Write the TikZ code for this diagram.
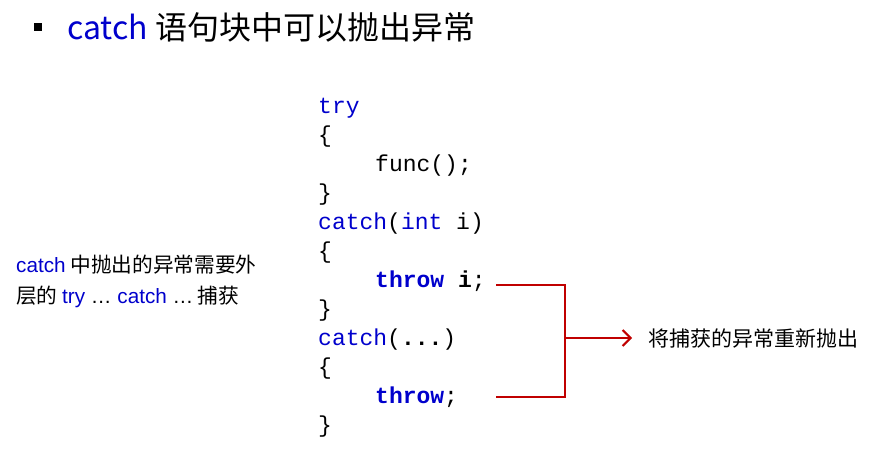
\documentclass[tikz,border=0pt]{standalone}
\usepackage{fontspec}
\setmainfont{Liberation Sans}
\setmonofont{Liberation Mono}
\newfontfamily\cjk{Noto Sans CJK SC}
\newfontfamily\arial{Liberation Sans}
\usetikzlibrary{arrows.meta}
\definecolor{kw}{RGB}{0,0,204}
\definecolor{rl}{RGB}{192,0,0}
\tikzset{
  code/.style={anchor=base west, inner sep=0pt, font=\ttfamily\fontsize{23}{24}\selectfont},
  redline/.style={draw=rl, line width=2pt},
  redarrow/.style={redline, -{Straight Barb[length=8pt,width=16pt,line width=2pt]}},
}
\begin{document}
\begin{tikzpicture}[x=1pt,y=-1pt]
\useasboundingbox (0,0) rectangle (889,474);
% title
\fill (34,23) rectangle (42,31);
\node[anchor=west, inner sep=0pt, font=\cjk\fontsize{32}{36}\selectfont] (title) at (67,27)
  {\textcolor{kw}{catch} 语句块中可以抛出异常};
% left note
\node[anchor=west, inner sep=0pt, align=left, font=\cjk\fontsize{20.7}{31}\selectfont] (note) at (16,281)
  {{\arial\textcolor{kw}{catch}} 中抛出的异常需要外\\层的 {\arial\textcolor{kw}{try} … \textcolor{kw}{catch} …} 捕获};
% code
\node[code] (l0) at (318,113) {\textcolor{kw}{try}};
\node[code] (l1) at (318,142) {\{};
\node[code] (l2) at (375,171) {func();};
\node[code] (l3) at (318,200) {\}};
\node[code] (l4) at (318,229) {\textcolor{kw}{catch}(\textcolor{kw}{int} i)};
\node[code] (l5) at (318,258) {\{};
\node[code] (l6) at (375,287) {\textbf{\textcolor{kw}{throw} i};};
\node[code] (l7) at (318,316) {\}};
\node[code] (l8) at (318,345) {\textcolor{kw}{catch}(\textbf{...})};
\node[code] (l9) at (318,374) {\{};
\node[code] (l10) at (375,403) {\textbf{\textcolor{kw}{throw}};};
\node[code] (l11) at (318,432) {\}};
% label
\node[anchor=west, inner sep=0pt, font=\cjk\fontsize{21}{24}\selectfont] (lbl) at (648,339) {将捕获的异常重新抛出};
% connectors
\coordinate (c1) at (496,285);
\coordinate (c2) at (496,397);
\coordinate (j) at (565,338);
\coordinate (tip) at (632,338);
\draw[redline] (c1) -| (j) |- (c2);
\draw[redarrow] (j) -- (tip);
\end{tikzpicture}
\end{document}
